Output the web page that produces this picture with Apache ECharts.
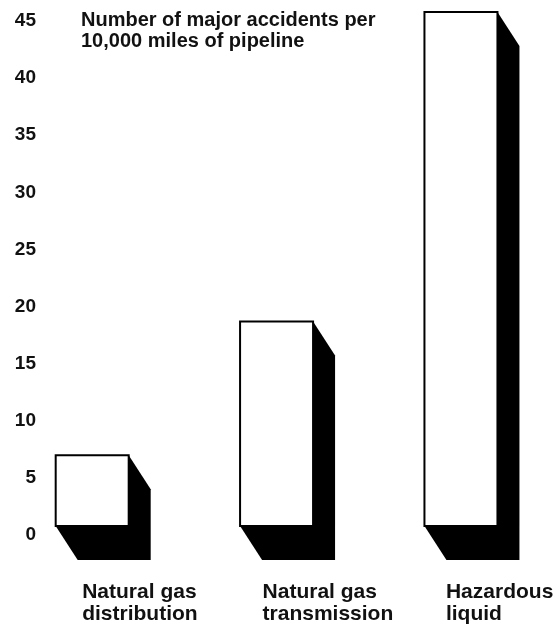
<!DOCTYPE html>
<html>
<head>
<meta charset="utf-8">
<script src="https://cdn.jsdelivr.net/npm/echarts@6/dist/echarts.min.js"></script>
<style>
html,body{margin:0;padding:0;background:#fff;}
#chart{width:556px;height:629px;}
</style>
</head>
<body>
<div id="chart"></div>
<script>
const categories = ['Natural gas\ndistribution', 'Natural gas\ntransmission', 'Hazardous\nliquid'];
const accidentsPer10kMiles = [6.2, 17.9, 45];
const yTicks = [0, 5, 10, 15, 20, 25, 30, 35, 40, 45];
const titleText = 'Number of major accidents per\n10,000 miles of pipeline';

const labelShift = [-10, -14, -15];
const FONT = '"Liberation Sans", Arial, sans-serif';
const DX = 22, DY = 34, BAR_W = 73;

const chart = echarts.init(document.getElementById('chart'), null, {renderer: 'canvas'});
chart.setOption({
  backgroundColor: '#fff',
  animation: false,
  title: {
    text: titleText,
    left: 81, top: 10, padding: 0,
    textStyle: {fontFamily: FONT, fontSize: 20, fontWeight: 'bold', color: '#111', lineHeight: 21}
  },
  grid: {left: -1, right: 2, top: 12, bottom: 103, containLabel: false},
  xAxis: {
    type: 'category',
    data: categories,
    axisLine: {show: false}, axisTick: {show: false}, splitLine: {show: false},
    axisLabel: {
      interval: 0, margin: 55,
      formatter: function (value, idx) {
        return value.split('\n').map(function (s) { return '{c' + idx + '|' + s + '}'; }).join('\n');
      },
      rich: {
        c0: {width: 2 * -labelShift[0], align: 'left', fontFamily: FONT, fontSize: 21, fontWeight: 'bold', color: '#111', lineHeight: 22},
        c1: {width: 2 * -labelShift[1], align: 'left', fontFamily: FONT, fontSize: 21, fontWeight: 'bold', color: '#111', lineHeight: 22},
        c2: {width: 2 * -labelShift[2], align: 'left', fontFamily: FONT, fontSize: 21, fontWeight: 'bold', color: '#111', lineHeight: 22}
      },
      verticalAlign: 'top',
      fontFamily: FONT, fontSize: 21, fontWeight: 'bold', color: '#111', lineHeight: 22
    }
  },
  yAxis: {
    type: 'value', min: yTicks[0], max: yTicks[yTicks.length - 1], interval: yTicks[1] - yTicks[0],
    axisLine: {show: false}, axisTick: {show: false}, splitLine: {show: false},
    axisLabel: {
      inside: true, align: 'right', verticalAlign: 'top', lineHeight: 18, margin: 36,
      fontFamily: FONT, fontSize: 19, fontWeight: 'bold', color: '#111'
    }
  },
  series: [{
    type: 'custom',
    data: accidentsPer10kMiles.map((v, i) => [i, v]),
    encode: {x: 0, y: 1},
    renderItem: function (params, api) {
      const top = api.coord([api.value(0), api.value(1)]);
      const base = api.coord([api.value(0), 0]);
      const x0 = top[0] - BAR_W / 2, x1 = top[0] + BAR_W / 2;
      const yt = top[1], yb = base[1];
      return {
        type: 'group',
        children: [
          {type: 'polygon', shape: {points: [[x0, yt], [x1, yt], [x1 + DX, yt + DY], [x1 + DX, yb + DY], [x0 + DX, yb + DY], [x0, yb]]},
           style: {fill: '#000'}},
          {type: 'rect', shape: {x: x0, y: yt, width: BAR_W, height: yb - yt},
           style: {fill: '#fff', stroke: '#000', lineWidth: 2}}
        ]
      };
    }
  }]
});
</script>
</body>
</html>
